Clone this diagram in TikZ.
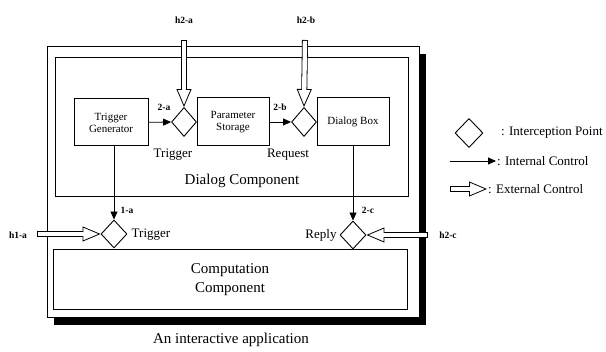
\documentclass[tikz,border=0pt]{standalone}
\usepackage{fontspec}
\setmainfont{Liberation Serif}
\usetikzlibrary{shapes.geometric,arrows.meta,shadows}
\tikzset{bx/.style={draw,line width=1pt,align=center,font=\fontsize{11}{12}\selectfont,inner sep=2pt},
 ip/.style={draw,line width=0.9pt,diamond,minimum width=25pt,minimum height=29pt,inner sep=0pt},
 ic/.style={line width=0.8pt,-{Triangle[length=8pt,width=7pt]}},
 ec/.style={line width=6pt,-{Triangle[length=18pt,width=15pt,line width=0.8pt,fill=white]},
  postaction={draw=white,line width=4.4pt,-,shorten >=17pt,shorten <=0.8pt}},
 lb/.style={font=\bfseries\fontsize{9.5}{10}\selectfont,inner sep=1pt},
 tx/.style={font=\fontsize{13}{15}\selectfont,inner sep=1pt},
 big/.style={font=\fontsize{15}{19}\selectfont,align=center,inner sep=1pt}}

\begin{document}
\begin{tikzpicture}[x=1pt,y=-1pt]
\useasboundingbox (0,0) rectangle (606,352);
% application frame with its shadow
\node[draw,line width=1pt,fill=white,minimum width=372pt,minimum height=271pt,
 drop shadow={shadow xshift=6.5pt,shadow yshift=-7.5pt,fill=black,opacity=1}](app) at (233,182.5){};
\node[bx,minimum width=353pt,minimum height=139pt](dlg) at (231.5,127.5){};
\node[bx,big,minimum width=354pt,minimum height=60pt](comp) at (230,280){Computation\\Component};
\node[big](dlgt) at (242,181){Dialog Component};
\node[big](appt) at (231,340){An interactive application};
% dialog parts
\node[bx,minimum width=74pt,minimum height=47pt](tg) at (111,122.5){Trigger\\Generator};
\node[ip](d2a) at (184,122){};
\node[bx,minimum width=72pt,minimum height=48pt](ps) at (233,122){Parameter\\Storage};
\node[ip](d2b) at (304,122){};
\node[bx,minimum width=72pt,minimum height=48pt](db) at (353,122){Dialog Box};
\node[ip,minimum width=26pt,minimum height=28pt](d1a) at (114,234){};
\node[ip,minimum width=26pt,minimum height=28pt](d2c) at (353,235){};
% labels
\node[lb](l2a) at (164,107){2-a};\node[lb](l2b) at (280,107){2-b};
\node[lb](l1a) at (127,210){1-a};\node[lb](l2c) at (368,210){2-c};
\node[lb](lh2a) at (184,20){h2-a};\node[lb](lh2b) at (306,20){h2-b};
\node[lb](lh1a) at (18,235){h1-a};\node[lb](lh2c) at (448,235){h2-c};
\node[tx](t1) at (173,155){Trigger};\node[tx](t2) at (288,155){Request};
\node[tx](t3) at (151,235){Trigger};\node[tx](t4) at (321,235){Reply};
% internal control
\draw[ic](tg)--(d2a);\draw[ic](ps)--(d2b);
\draw[ic](tg.south -| d1a.north)--(d1a.north);\draw[ic](db)--(d2c);
% external control
\coordinate(e2a) at (184,40);\coordinate(e2b) at (305,40);
\coordinate(e1a) at (37,234);\coordinate(e2c) at (428,235);
\draw[ec](e2a)--(d2a.north);\draw[ec](e2b)--(d2b.north);
\draw[ec](e1a)--(d1a.west);\draw[ec](e2c)--(d2c.east);
% legend
\node[ip,minimum width=28pt,minimum height=29pt](lgip) at (469,133){};
\node[tx,anchor=west](lgipt) at (500,133){: Interception Point};
\node[tx,anchor=west](lgict) at (496,161){: Internal Control};
\node[tx,anchor=west](lgect) at (487,189){: External Control};
\coordinate(lgic) at (450,161);\coordinate(lgec) at (450,189);
\draw[ic](lgic)--(lgict.west);\draw[ec](lgec)--(lgect.west);
\end{tikzpicture}
\end{document}
